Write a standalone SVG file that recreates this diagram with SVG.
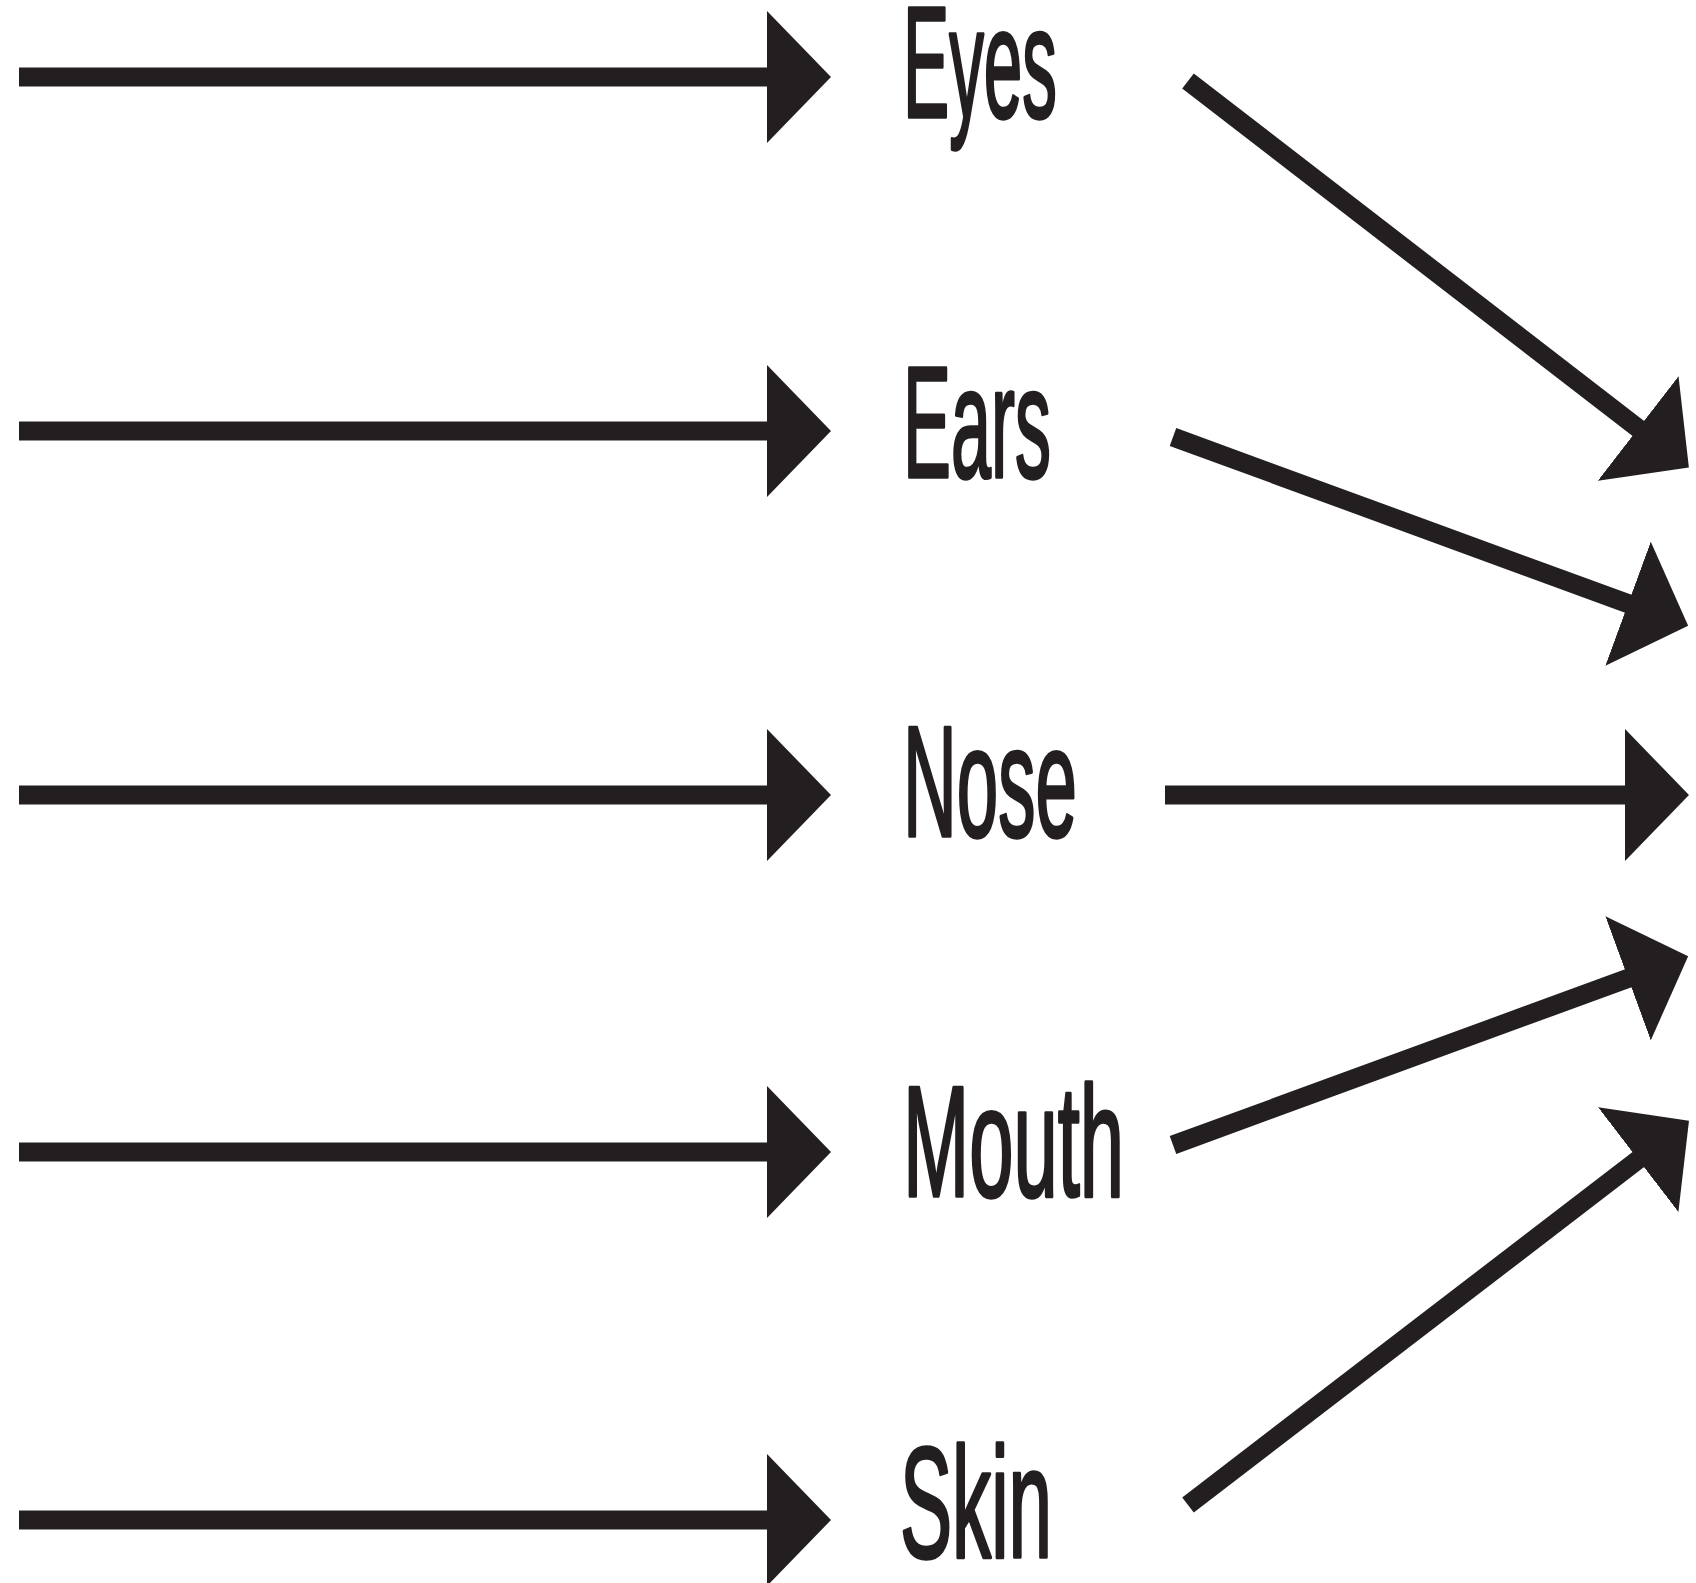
<svg xmlns="http://www.w3.org/2000/svg" width="1696" height="1583" viewBox="0 0 1696 1583">
  <defs>
    <marker id="head" markerUnits="userSpaceOnUse" viewBox="0 -66 64 132" markerWidth="64" markerHeight="132" refX="1" refY="0" orient="auto">
      <path d="M0,-66 L64,0 L0,66 Z" fill="#231f20"/>
    </marker>
    <style>
      .arrow { stroke: #231f20; stroke-width: 19; fill: none; marker-end: url(#head); }
      .label { font-family: "Liberation Sans Narrow", "Liberation Sans", Arial, sans-serif; font-weight: normal; font-size: 157px; fill: #231f20; stroke: #231f20; stroke-width: 3.5; stroke-linejoin: round; }
    </style>
  </defs>
  <rect x="0" y="0" width="1696" height="1583" fill="#ffffff"/>
  <g id="connectors">
    <line class="arrow" x1="19" y1="77" x2="768" y2="77"/>
    <line class="arrow" x1="19" y1="431" x2="768" y2="431"/>
    <line class="arrow" x1="19" y1="795" x2="768" y2="795"/>
    <line class="arrow" x1="19" y1="1152" x2="768" y2="1152"/>
    <line class="arrow" x1="19" y1="1520" x2="768" y2="1520"/>
    <line class="arrow" x1="1188" y1="81" x2="1639" y2="429"/>
    <line class="arrow" x1="1173" y1="437" x2="1629" y2="604"/>
    <line class="arrow" x1="1165" y1="795" x2="1626" y2="795"/>
    <line class="arrow" x1="1173" y1="1145" x2="1629" y2="978"/>
    <line class="arrow" x1="1188" y1="1505" x2="1639" y2="1159"/>
  </g>
  <g id="node-eyes"><text class="label" x="903" y="117" textLength="154" lengthAdjust="spacingAndGlyphs">Eyes</text></g>
  <g id="node-ears"><text class="label" x="903" y="477" textLength="148" lengthAdjust="spacingAndGlyphs">Ears</text></g>
  <g id="node-nose"><text class="label" x="903" y="836" textLength="174" lengthAdjust="spacingAndGlyphs">Nose</text></g>
  <g id="node-mouth"><text class="label" x="903" y="1196" textLength="221" lengthAdjust="spacingAndGlyphs">Mouth</text></g>
  <g id="node-skin"><text class="label" x="900" y="1557" textLength="152" lengthAdjust="spacingAndGlyphs">Skin</text></g>
</svg>
